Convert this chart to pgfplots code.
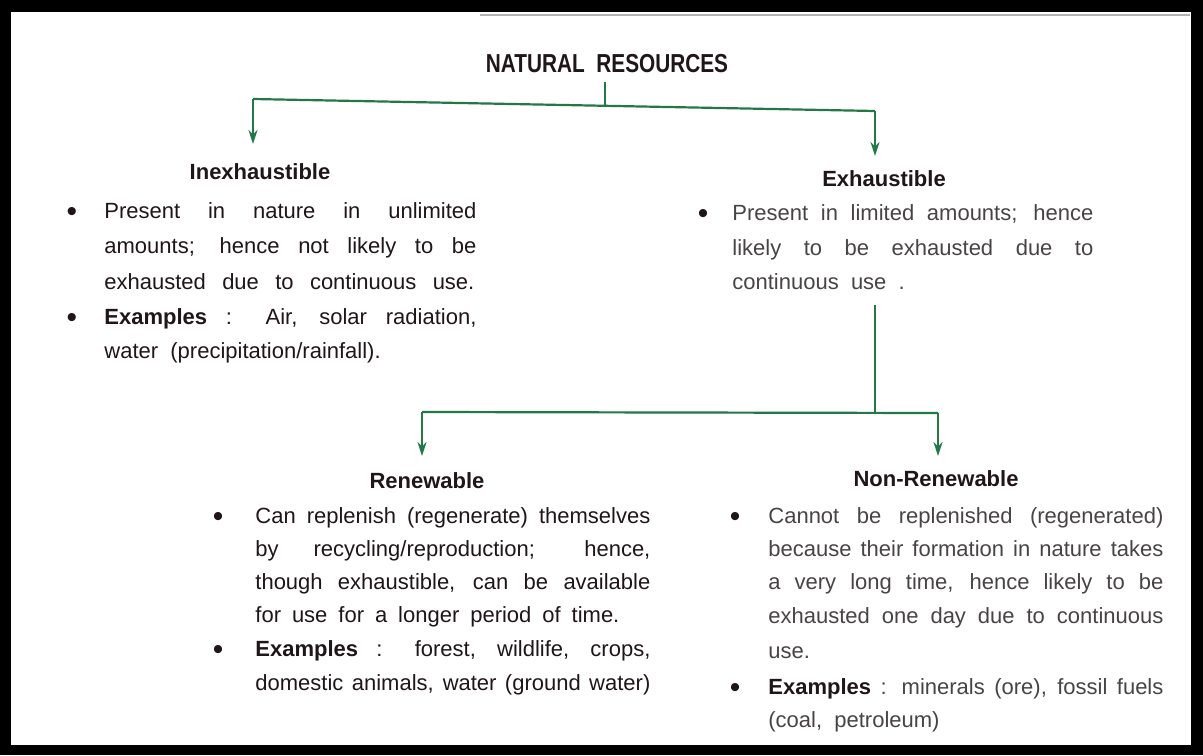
\documentclass[border=0pt]{standalone}
\usepackage{fontspec}
\setmainfont{Liberation Sans}
\usepackage{graphicx}
\usepackage{pgfplots}
\pgfplotsset{compat=1.18}
\usetikzlibrary{arrows.meta}
\definecolor{arrowgreen}{RGB}{34,120,70}
\definecolor{ink}{RGB}{32,22,26}
\definecolor{inkl}{RGB}{72,68,70}
\newcommand{\J}[2]{\makebox[#1][s]{#2}}
\tikzset{
  txt/.style={anchor=base west,inner sep=0pt,font=\fontsize{11}{13}\selectfont,text=ink},
  txtl/.style={txt,text=inkl},
  hd/.style={anchor=base,inner sep=0pt,font=\fontsize{11}{13}\selectfont\bfseries,text=ink},
  bul/.style={anchor=base,inner sep=0pt,font=\fontsize{15}{15}\selectfont,text=ink},
  conn/.style={arrowgreen,line width=1.1pt},
  arr/.style={conn,-{Stealth[length=7pt,width=4.5pt]}}}
\begin{document}
\begin{tikzpicture}
\begin{axis}[width=601.5pt,height=377.5pt,scale only axis,
  xmin=0,xmax=1203,ymin=0,ymax=755,y dir=reverse,
  axis lines=none,ticks=none,clip=false]
\fill[black] (axis cs:0,0) rectangle (axis cs:1203,755);
\fill[white] (axis cs:11,12) rectangle (axis cs:1191,745);
\draw[gray!60,line width=1pt] (axis cs:480,15) -- (axis cs:1190,15);
% connectors
\addplot[conn,no marks] coordinates {(605,82) (605,105)};
\addplot[conn,no marks] coordinates {(253,99) (875,111)};
\addplot[arr,no marks] coordinates {(253,99) (253,144)};
\addplot[arr,no marks] coordinates {(875,111) (875,156)};
\addplot[conn,no marks] coordinates {(875,305) (875,413)};
\addplot[conn,no marks] coordinates {(422,412) (938,413)};
\addplot[arr,no marks] coordinates {(422,412) (422,456)};
\addplot[arr,no marks] coordinates {(938,413) (938,456)};
% title
\node[anchor=base,inner sep=0pt,text=ink] at (axis cs:607,72) {\scalebox{0.8}[1]{\fontsize{13}{15}\selectfont\bfseries NATURAL\ \ RESOURCES}};
% Inexhaustible
\node[hd] at (axis cs:260,179) {Inexhaustible};
\node[bul] at (axis cs:72,221) {\textbullet};
\node[txt] at (axis cs:104,218) {\J{186pt}{Present in nature in unlimited}};
\node[txt] at (axis cs:104,253) {\J{186pt}{amounts; hence not likely to be}};
\node[txt] at (axis cs:104,289) {\J{185pt}{exhausted due to continuous use.}};
\node[bul] at (axis cs:72,327) {\textbullet};
\node[txt] at (axis cs:104,324) {\J{186pt}{\textbf{Examples} : Air, solar radiation,}};
\node[txt] at (axis cs:104,358) {water\ \ (precipitation/rainfall).};
% Exhaustible
\node[hd] at (axis cs:884,186) {Exhaustible};
\node[bul] at (axis cs:703,223) {\textbullet};
\node[txtl] at (axis cs:732,220) {\J{180.5pt}{Present in limited amounts; hence}};
\node[txtl] at (axis cs:732,255) {\J{180.5pt}{likely to be exhausted due to}};
\node[txtl] at (axis cs:732,289) {continuous\ \ use\ \ .};
% Renewable
\node[hd] at (axis cs:427,488) {Renewable};
\node[bul] at (axis cs:218,526) {\textbullet};
\node[txt] at (axis cs:255,523) {\J{197.5pt}{Can replenish (regenerate) themselves}};
\node[txt] at (axis cs:255,556) {\J{197.5pt}{by recycling/reproduction; hence,}};
\node[txt] at (axis cs:255,589) {\J{197.5pt}{though exhaustible, can be available}};
\node[txt] at (axis cs:255,622) {\J{182pt}{for use for a longer period of time.}};
\node[bul] at (axis cs:218,659) {\textbullet};
\node[txt] at (axis cs:255,656) {\J{197.5pt}{\textbf{Examples} : forest, wildlife, crops,}};
\node[txt] at (axis cs:255,690) {\J{197.5pt}{domestic animals, water (ground water)}};
% Non-Renewable
\node[hd] at (axis cs:936,486) {Non-Renewable};
\node[bul] at (axis cs:735,526) {\textbullet};
\node[txtl] at (axis cs:768,523) {\J{197.5pt}{Cannot be replenished (regenerated)}};
\node[txtl] at (axis cs:768,556) {\J{197.5pt}{because their formation in nature takes}};
\node[txtl] at (axis cs:768,589) {\J{197.5pt}{a very long time, hence likely to be}};
\node[txtl] at (axis cs:768,623) {\J{197.5pt}{exhausted one day due to continuous}};
\node[txtl] at (axis cs:768,658) {use.};
\node[bul] at (axis cs:735,697) {\textbullet};
\node[txtl] at (axis cs:768,694) {\J{197.5pt}{\textbf{\color{ink}Examples} : minerals (ore), fossil fuels}};
\node[txtl] at (axis cs:768,727) {(coal,\ \ petroleum)};
\end{axis}
\end{tikzpicture}
\end{document}
